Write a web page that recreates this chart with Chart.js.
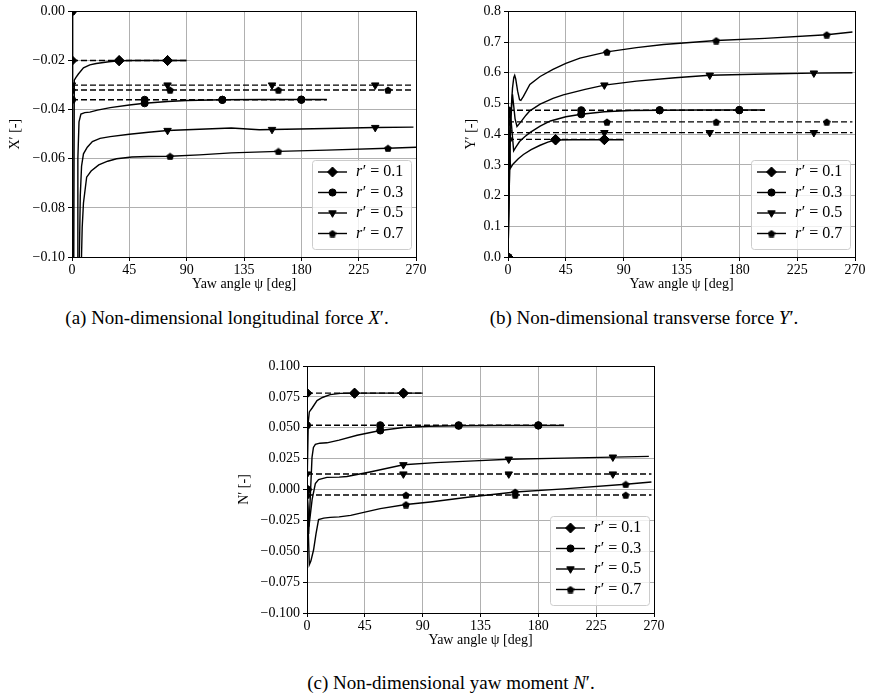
<!DOCTYPE html>
<html>
<head>
<meta charset="utf-8">
<script src="https://cdn.jsdelivr.net/npm/chart.js@4.4.1/dist/chart.umd.min.js"></script>
<style>
  body { margin: 0; background: #fff; width: 869px; height: 699px; position: relative; overflow: hidden; font-family: "Times New Roman", "Liberation Serif", "DejaVu Serif", serif; }
  canvas { position: absolute; }
  .cap { position: absolute; font-size: 19px; white-space: nowrap; transform: translate(-50%, -50%); color: #000; }
</style>
</head>
<body>
<canvas id="chartX" width="430" height="295" style="left:0;top:0"></canvas>
<canvas id="chartY" width="429" height="295" style="left:440px;top:0"></canvas>
<canvas id="chartN" width="450" height="300" style="left:220px;top:350px"></canvas>
<div class="cap" style="left:227px;top:318px">(a) Non-dimensional longitudinal force <i>X</i>′.</div>
<div class="cap" style="left:644px;top:318px">(b) Non-dimensional transverse force <i>Y</i>′.</div>
<div class="cap" style="left:451px;top:683px">(c) Non-dimensional yaw moment <i>N</i>′.</div>
<script>
// rotation rates r' and where each curve carries a marker (yaw angle, deg)
const rLabels = ['0.1', '0.3', '0.5', '0.7'];
const markPsi = [[0, 37, 75], [0, 57, 118, 180], [0, 75, 157, 238], [0, 77, 162, 248]];
const dashEnd = [90, 200, 268, 268];

// steady-turn reference values (dashed)
const steadyX = [-0.020, -0.036, -0.030, -0.032];
const steadyY = [0.383, 0.478, 0.405, 0.440];
const steadyN = [0.078, 0.052, 0.0125, -0.0045];

// X' time histories
const psiX01 = [0, 0.3, 1.8, 3, 5, 9, 14, 19, 29, 37, 50, 75, 90];
const valX01 = [0, -0.3, -0.028, -0.027, -0.0255, -0.023, -0.0218, -0.0212, -0.0205, -0.0201, -0.0200, -0.0200, -0.0200];
const psiX03 = [0, 0.5, 4, 4.6, 5.5, 7, 10, 14, 20, 30, 45, 57, 75, 90, 118, 150, 180, 200];
const valX03 = [0, -0.3, -0.11, -0.06, -0.045, -0.0418, -0.0412, -0.041, -0.0402, -0.0392, -0.0381, -0.0374, -0.0367, -0.0363, -0.0360, -0.0359, -0.0359, -0.0359];
const psiX05 = [0, 1, 5.5, 6.5, 7.5, 9, 12, 16, 22, 30, 45, 60, 75, 100, 125, 147, 157, 200, 238, 268];
const valX05 = [0, -0.3, -0.11, -0.075, -0.063, -0.058, -0.0553, -0.053, -0.0517, -0.0510, -0.0500, -0.0492, -0.0485, -0.0480, -0.0475, -0.0482, -0.0481, -0.0477, -0.0473, -0.0471];
const psiX07 = [0, 1.5, 7, 8, 9, 11.5, 15, 21, 28, 35, 47, 60, 77, 100, 125, 162, 200, 248, 270];
const valX07 = [0, -0.3, -0.11, -0.088, -0.078, -0.0675, -0.065, -0.0625, -0.0610, -0.0600, -0.0593, -0.0591, -0.0590, -0.0584, -0.0576, -0.0570, -0.0565, -0.0557, -0.0553];

// Y' time histories
const psiY01 = [0, 0.8, 2, 4, 8, 12, 18, 25, 31, 37, 50, 75, 90];
const valY01 = [0, 0.37, 0.29, 0.303, 0.32, 0.334, 0.35, 0.364, 0.374, 0.381, 0.382, 0.382, 0.382];
const psiY03 = [0, 1, 2.5, 4.4, 6, 9, 13, 17, 25, 33, 45, 57, 75, 95, 118, 150, 180, 200];
const valY03 = [0, 0.48, 0.44, 0.346, 0.357, 0.376, 0.392, 0.405, 0.426, 0.443, 0.457, 0.465, 0.473, 0.477, 0.478, 0.479, 0.479, 0.479];
const psiY05 = [0, 1.8, 3.5, 5.5, 7, 10, 14, 17, 25, 35, 43, 60, 75, 100, 130, 157, 200, 238, 268];
const valY05 = [0, 0.42, 0.53, 0.45, 0.425, 0.44, 0.462, 0.476, 0.498, 0.517, 0.528, 0.546, 0.560, 0.573, 0.584, 0.592, 0.596, 0.599, 0.600];
const psiY07 = [0, 2, 3.5, 4.5, 5.2, 6, 7.5, 9, 10, 12, 17, 25, 35, 45, 56, 77, 100, 121, 162, 200, 248, 268];
const valY07 = [0, 0.45, 0.55, 0.585, 0.592, 0.58, 0.54, 0.512, 0.51, 0.523, 0.562, 0.588, 0.611, 0.631, 0.648, 0.668, 0.682, 0.692, 0.705, 0.712, 0.724, 0.733];

// N' time histories
const psiN01 = [0, 1, 1.8, 4, 7.8, 12, 18, 26, 37, 75, 90];
const valN01 = [0, 0.055, 0.0628, 0.066, 0.072, 0.0745, 0.0768, 0.0778, 0.078, 0.078, 0.078];
const psiN03 = [0, 1.3, 3.9, 5, 6.5, 10, 15.5, 25, 39, 57, 75, 95, 118, 150, 180, 200];
const valN03 = [0, -0.036, 0.026, 0.034, 0.0366, 0.0375, 0.0378, 0.040, 0.0439, 0.0478, 0.0502, 0.0512, 0.0516, 0.0518, 0.0518, 0.0518];
const psiN05 = [0, 1.5, 4, 6.5, 9, 15.5, 25, 31, 49, 75, 100, 130, 157, 200, 238, 266];
const valN05 = [0, -0.03, -0.008, 0.0048, 0.008, 0.0098, 0.0100, 0.0105, 0.0142, 0.0200, 0.0218, 0.0232, 0.0245, 0.0254, 0.0262, 0.0268];
const psiN07 = [0, 1.8, 3, 5.1, 7, 9, 13, 18, 25, 34, 45, 57, 77, 96, 125, 162, 200, 248, 268];
const valN07 = [0, -0.061, -0.058, -0.049, -0.036, -0.0244, -0.0232, -0.0226, -0.0222, -0.0210, -0.0183, -0.0155, -0.0122, -0.0101, -0.0063, -0.0020, 0.0005, 0.0042, 0.0061];

const serif = '"Times New Roman", "Liberation Serif", "DejaVu Serif", serif';
Chart.defaults.font.family = serif;
Chart.defaults.color = '#000';

function pentagon(size) {
  const c = document.createElement('canvas');
  c.width = c.height = size;
  const g = c.getContext('2d');
  g.fillStyle = '#000';
  g.beginPath();
  for (let i = 0; i < 5; i++) {
    const a = -Math.PI / 2 + i * 2 * Math.PI / 5;
    g.lineTo(size / 2 + size / 2 * Math.cos(a), size / 2 + size / 2 * Math.sin(a) + 0.4);
  }
  g.closePath();
  g.fill();
  return c;
}

const markStyle = ['rectRot', 'circle', 'triangle', pentagon(8)];
const markSize = [5, 3.6, 4.3, 3.5];
const markRot = [0, 0, 180, 0];

function buildDatasets(curves, steady) {
  const sets = [];
  curves.forEach(([psi, val], i) => {
    const marks = markPsi[i];
    const line = psi.map((p, k) => ({ x: p, y: val[k] }));
    const ref = [...marks, dashEnd[i]].map(p => ({ x: p, y: steady[i] }));
    [line, ref].forEach((data, j) => sets.push({
      data,
      borderColor: '#000',
      borderWidth: 1.4,
      borderDash: j ? [6, 3] : [],
      pointStyle: markStyle[i],
      pointRotation: markRot[i],
      pointRadius: c => (c.raw && marks.includes(c.raw.x)) ? markSize[i] : 0,
      pointBackgroundColor: '#000',
      pointBorderColor: '#000',
      pointBorderWidth: 1
    }));
  });
  return sets;
}

function fmt(v, digits) {
  if (Math.abs(v) < 1e-9) v = 0;
  return v.toFixed(digits).replace('-', '\u2212');
}

const frameAndLegend = {
  id: 'frameAndLegend',
  afterDatasetsDraw(chart) {
    const { ctx, chartArea: a } = chart;
    ctx.save();
    ctx.strokeStyle = '#000';
    ctx.lineWidth = 1;
    ctx.strokeRect(Math.round(a.left) + 0.5, Math.round(a.top) + 0.5, Math.round(a.right - a.left), Math.round(a.bottom - a.top));

    const w = 99, h = 89, row = 20.5;
    const x0 = a.right - 5 - w, y0 = a.bottom - 8 - h;
    ctx.beginPath();
    ctx.roundRect(x0 + 0.5, y0 + 0.5, w, h, 3);
    ctx.fillStyle = 'rgba(255,255,255,0.8)';
    ctx.fill();
    ctx.strokeStyle = '#cccccc';
    ctx.stroke();

    rLabels.forEach((lab, i) => {
      const y = y0 + 12 + i * row;
      ctx.strokeStyle = '#000';
      ctx.fillStyle = '#000';
      ctx.lineWidth = 1.4;
      ctx.beginPath();
      ctx.moveTo(x0 + 6, y);
      ctx.lineTo(x0 + 35, y);
      ctx.stroke();
      ctx.lineWidth = 1;
      Chart.helpers.drawPoint(ctx, { pointStyle: markStyle[i], radius: markSize[i], rotation: markRot[i], borderWidth: 1 }, x0 + 20.5, y);
      ctx.textBaseline = 'middle';
      ctx.textAlign = 'left';
      ctx.font = 'italic 16px ' + serif;
      ctx.fillText('r', x0 + 44, y);
      const rw = ctx.measureText('r').width;
      ctx.font = '16px ' + serif;
      ctx.fillText('\u2032 = ' + lab, x0 + 44 + rw + 0.5, y);
    });
    ctx.restore();
  }
};

const gridOpts = { color: '#b0b0b0', lineWidth: 1, tickColor: '#000', tickLength: 4 };
const tickFont = { size: 14 };
const titleFont = { size: 14 };

function makeChart(id, curves, steady, yMin, yMax, yStep, digits, yTitle, yWidth, yTitlePad, pad, xHeight, xTitlePad) {
  return new Chart(document.getElementById(id), {
    type: 'line',
    data: { datasets: buildDatasets(curves, steady) },
    options: {
      responsive: false,
      animation: false,
      events: [],
      layout: { padding: pad },
      plugins: { legend: { display: false }, tooltip: { enabled: false } },
      scales: {
        x: {
          type: 'linear', min: 0, max: 270,
          ticks: { stepSize: 45, maxRotation: 0, autoSkip: false, font: tickFont, padding: 1 },
          grid: gridOpts,
          border: { display: false },
          title: { display: true, text: 'Yaw angle \u03c8 [deg]', font: titleFont, padding: { top: 0, bottom: xTitlePad } },
          afterFit: s => { s.height = xHeight; }
        },
        y: {
          type: 'linear', min: yMin, max: yMax,
          ticks: { stepSize: yStep, autoSkip: false, font: tickFont, padding: 3, callback: v => fmt(v, digits) },
          grid: gridOpts,
          border: { display: false },
          title: { display: true, text: yTitle, font: titleFont, padding: { top: yTitlePad, bottom: 0 } },
          afterFit: s => { s.width = yWidth; }
        }
      }
    },
    plugins: [frameAndLegend]
  });
}

makeChart('chartX',
  [[psiX01, valX01], [psiX03, valX03], [psiX05, valX05], [psiX07, valX07]], steadyX,
  -0.1, 0, 0.02, 2, 'X\u2032 [-]', 72, 6.6, { left: 0, right: 14, top: 10, bottom: 0 }, 38, 2.6);

makeChart('chartY',
  [[psiY01, valY01], [psiY03, valY03], [psiY05, valY05], [psiY07, valY07]], steadyY,
  0, 0.8, 0.1, 1, 'Y\u2032 [-]', 68, 23.3, { left: 0, right: 14, top: 10, bottom: 0 }, 38, 2.6);

makeChart('chartN',
  [[psiN01, valN01], [psiN03, valN03], [psiN05, valN05], [psiN07, valN07]], steadyN,
  -0.1, 0.1, 0.025, 3, 'N\u2032 [-]', 87, 15.6, { left: 0, right: 16, top: 16, bottom: 0 }, 37, 1.6);
</script>
</body>
</html>
